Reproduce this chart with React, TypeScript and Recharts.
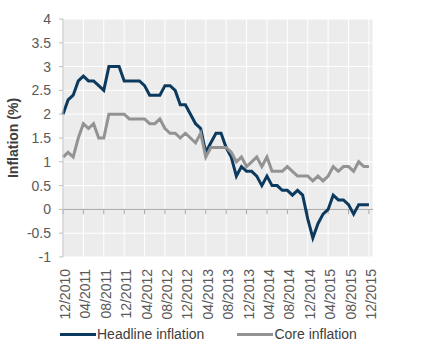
import React from 'react';
import { LineChart, Line, XAxis, YAxis, CartesianGrid, ReferenceLine, Legend, Label } from 'recharts';

// Monthly values, 12/2010 .. 12/2015
const headline = [
  2.0, 2.3, 2.4, 2.7, 2.8, 2.7, 2.7, 2.6, 2.5, 3.0, 3.0, 3.0,
  2.7, 2.7, 2.7, 2.7, 2.6, 2.4, 2.4, 2.4, 2.6, 2.6, 2.5, 2.2,
  2.2, 2.0, 1.8, 1.7, 1.2, 1.4, 1.6, 1.6, 1.3, 1.1, 0.7, 0.9,
  0.8, 0.8, 0.7, 0.5, 0.7, 0.5, 0.5, 0.4, 0.4, 0.3, 0.4, 0.3,
  -0.2, -0.6, -0.3, -0.1, 0.0, 0.3, 0.2, 0.2, 0.1, -0.1, 0.1, 0.1,
  0.1,
];
const core = [
  1.1, 1.2, 1.1, 1.5, 1.8, 1.7, 1.8, 1.5, 1.5, 2.0, 2.0, 2.0,
  2.0, 1.9, 1.9, 1.9, 1.9, 1.8, 1.8, 1.9, 1.7, 1.6, 1.6, 1.5,
  1.6, 1.5, 1.4, 1.6, 1.1, 1.3, 1.3, 1.3, 1.3, 1.2, 1.0, 1.1,
  0.9, 1.0, 1.1, 0.9, 1.1, 0.8, 0.8, 0.8, 0.9, 0.8, 0.7, 0.7,
  0.7, 0.6, 0.7, 0.6, 0.7, 0.9, 0.8, 0.9, 0.9, 0.8, 1.0, 0.9,
  0.9,
];
const tickMonths = [0, 4, 8, 12, 16, 20, 24, 28, 32, 36, 40, 44, 48, 52, 56, 60];
const tickLabels = [
  '12/2010', '04/2011', '08/2011', '12/2011', '04/2012', '08/2012', '12/2012', '04/2013',
  '08/2013', '12/2013', '04/2014', '08/2014', '12/2014', '04/2015', '08/2015', '12/2015',
];
const yTicks = [-1, -0.5, 0, 0.5, 1, 1.5, 2, 2.5, 3, 3.5, 4];
const seriesNames = ['Headline inflation', 'Core inflation'];
const yTitle = 'Inflation (%)';

const data = headline.map((v, i) => ({ m: i, headline: v, core: core[i] }));

const FONT = '"Liberation Sans", Arial, sans-serif';
const NAVY = '#0c3a5e';
const GREY = '#939393';
const AXIS = '#bfbfbf';

const XTick = (props: any) => {
  const { x, y, payload } = props;
  const idx = tickMonths.indexOf(payload.value);
  return (
    <text
      x={x}
      y={y}
      transform={`rotate(-90, ${x}, ${y})`}
      textAnchor="end"
      dx={-10}
      dy={7}
      fontSize={14}
      fontFamily={FONT}
      fill="#595959"
    >
      {tickLabels[idx]}
    </text>
  );
};

const LegendContent = () => {
  const items = [
    { name: seriesNames[0], color: NAVY },
    { name: seriesNames[1], color: GREY },
  ];
  return (
    <div style={{ display: 'flex', alignItems: 'center', paddingLeft: 60, height: 18, fontFamily: FONT, fontSize: 14, color: '#404040' }}>
      {items.map((it, i) => (
        <div key={it.name} style={{ display: 'flex', alignItems: 'center', marginRight: i === 0 ? 33 : 0 }}>
          <span style={{ display: 'inline-block', width: 36, height: 3, background: it.color }} />
          <span style={{ marginLeft: 1, lineHeight: '18px', whiteSpace: 'nowrap' }}>{it.name}</span>
        </div>
      ))}
    </div>
  );
};

export default function App() {
  return (
    <div style={{ position: 'absolute', left: 0, top: 0, width: 421, height: 351, background: '#fff' }}>
      <LineChart width={421} height={351} data={data} margin={{ top: 19, right: 48, bottom: 30, left: 0 }}>
        <CartesianGrid fill="#ececec" stroke="#ffffff" strokeWidth={1} />
        <XAxis
          dataKey="m"
          type="number"
          domain={[0, 60.8]}
          ticks={tickMonths}
          interval={0}
          height={64}
          axisLine={false}
          tickLine={false}
          tickSize={0}
          tick={<XTick />}
        />
        <YAxis
          type="number"
          domain={[-1, 4]}
          ticks={yTicks}
          interval={0}
          width={63}
          axisLine={{ stroke: AXIS }}
          tickLine={{ stroke: AXIS }}
          tickSize={4}
          tickMargin={8}
          tick={{ fontSize: 14, fontFamily: FONT, fill: '#595959' }}
        >
          <Label
            content={(p: any) => {
              const vb = p.viewBox || {};
              const cx = 13;
              const cy = (vb.y || 0) + (vb.height || 0) / 2;
              return (
                <text
                  x={cx}
                  y={cy}
                  transform={`rotate(-90, ${cx}, ${cy})`}
                  textAnchor="middle"
                  dominantBaseline="central"
                  fontSize={14}
                  fontWeight="bold"
                  fontFamily={FONT}
                  fill="#404040"
                >
                  {yTitle}
                </text>
              );
            }}
          />
        </YAxis>
        <ReferenceLine y={0} stroke="#a6a6a6" strokeWidth={1} />
        {tickMonths.map((m) => (
          <ReferenceLine
            key={m}
            segment={[{ x: m, y: 0 }, { x: m, y: -0.1 }]}
            stroke="#a6a6a6"
            strokeWidth={1}
          />
        ))}
        <Line
          type="linear"
          dataKey="headline"
          name={seriesNames[0]}
          stroke={NAVY}
          strokeWidth={3}
          dot={false}
          isAnimationActive={false}
        />
        <Line
          type="linear"
          dataKey="core"
          name={seriesNames[1]}
          stroke={GREY}
          strokeWidth={3}
          dot={false}
          isAnimationActive={false}
        />
        <Legend
          layout="horizontal"
          verticalAlign="middle"
          align="center"
          content={<LegendContent />}
          wrapperStyle={{ top: 325, left: 0, width: 421, height: 18 }}
        />
      </LineChart>
    </div>
  );
}
